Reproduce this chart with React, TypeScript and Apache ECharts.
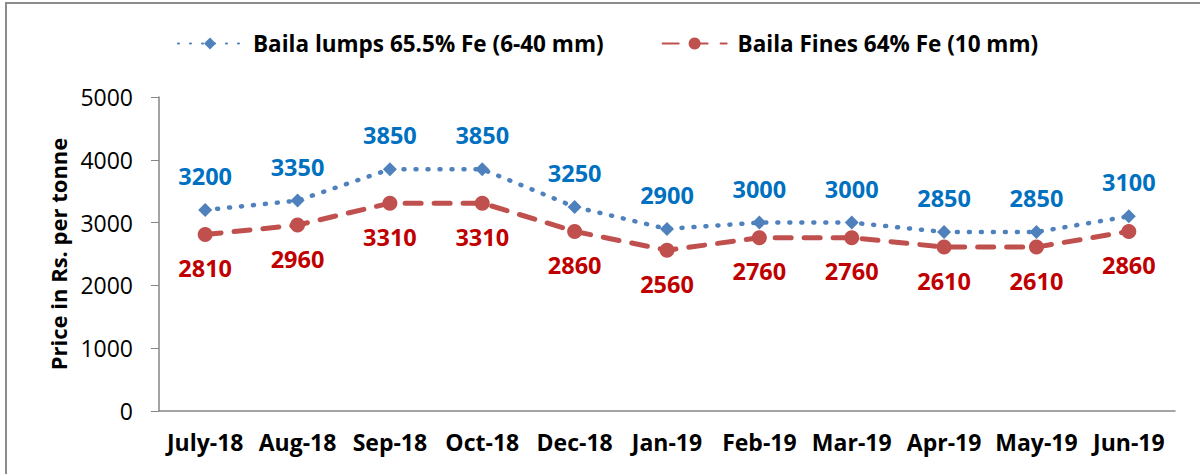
import React, { useEffect, useRef } from "react";
import * as echarts from "echarts";

const categories = ["July-18", "Aug-18", "Sep-18", "Oct-18", "Dec-18", "Jan-19", "Feb-19", "Mar-19", "Apr-19", "May-19", "Jun-19"];
const lumps = [3200, 3350, 3850, 3850, 3250, 2900, 3000, 3000, 2850, 2850, 3100];
const fines = [2810, 2960, 3310, 3310, 2860, 2560, 2760, 2760, 2610, 2610, 2860];
const yTicks = [0, 1000, 2000, 3000, 4000, 5000];

const FONT = "'Open Sans', sans-serif";

export default function App() {
  const ref = useRef<HTMLDivElement>(null);
  useEffect(() => {
    if (!ref.current) return;
    const chart = echarts.init(ref.current, undefined, { renderer: "svg" });
    chart.setOption({
      animation: false,
      backgroundColor: "#fff",
      textStyle: { fontFamily: FONT },
      graphic: [
        {
          type: "rect",
          shape: { x: 6, y: 3, width: 1220, height: 500 },
          style: { fill: "none", stroke: "#8c8c8c", lineWidth: 2 },
          silent: true,
        },
      ],
      legend: {
        top: 27,
        left: 172,
        itemGap: 58,
        itemWidth: 64,
        itemHeight: 15,
        textStyle: { fontFamily: FONT, fontSize: 22.5, fontWeight: "bold", color: "#000", padding: [0, 0, 0, 6] },
        data: ["Baila lumps 65.5% Fe (6-40 mm)", "Baila Fines 64% Fe (10 mm)"],
      },
      grid: { left: 159, right: 25, top: 97, bottom: 63 },
      xAxis: {
        type: "category",
        data: categories,
        boundaryGap: true,
        axisLine: { lineStyle: { color: "#868686", width: 1.5 } },
        axisTick: { alignWithLabel: true, length: 5, lineStyle: { color: "#868686" } },
        axisLabel: { fontFamily: FONT, fontSize: 23, fontWeight: "bold", color: "#000", margin: 19, interval: 0 },
      },
      yAxis: {
        type: "value",
        min: 0,
        max: 5000,
        interval: 1000,
        name: "Price in Rs. per tonne",
        nameLocation: "middle",
        nameGap: 88,
        nameRotate: 90,
        nameTextStyle: { fontFamily: FONT, fontSize: 22, fontWeight: "bold", color: "#000" },
        axisLine: { show: true, lineStyle: { color: "#868686", width: 1.5 } },
        axisTick: { show: true, length: 8, lineStyle: { color: "#868686" } },
        splitLine: { show: false },
        axisLabel: {
          fontFamily: FONT,
          fontSize: 23,
          color: "#000",
          margin: 26,
          formatter: (v: number) => (yTicks.includes(v) ? String(v) : ""),
        },
      },
      series: [
        {
          name: "Baila lumps 65.5% Fe (6-40 mm)",
          type: "line",
          data: lumps,
          symbol: "diamond",
          symbolSize: 14,
          color: "#4F81BD",
          lineStyle: { color: "#4F81BD", width: 4.5, type: [1, 11] as any, cap: "round" },
          itemStyle: { color: "#4F81BD" },
          label: {
            show: true,
            position: "top",
            distance: 15,
            fontFamily: FONT,
            fontSize: 23.5,
            fontWeight: "bold",
            color: "#0070C0",
          },
        },
        {
          name: "Baila Fines 64% Fe (10 mm)",
          type: "line",
          data: fines,
          symbol: "circle",
          symbolSize: 15,
          color: "#C0504D",
          lineStyle: { color: "#C0504D", width: 5, type: [16, 13] as any, cap: "round" },
          itemStyle: { color: "#C0504D" },
          label: {
            show: true,
            position: "bottom",
            distance: 14,
            fontFamily: FONT,
            fontSize: 23.5,
            fontWeight: "bold",
            color: "#C00000",
          },
        },
      ],
    });
    return () => chart.dispose();
  }, []);
  return <div ref={ref} style={{ position: "fixed", left: 0, top: 0, width: 1200, height: 474 }} />;
}
